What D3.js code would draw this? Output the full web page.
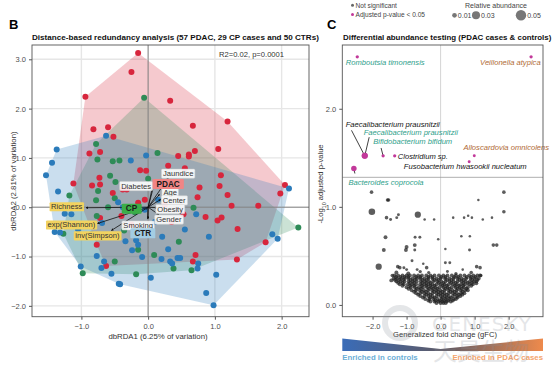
<!DOCTYPE html>
<html><head><meta charset="utf-8">
<script src="https://cdn.jsdelivr.net/npm/d3@7"></script>
<style>body{margin:0;background:#fff}svg{display:block;font-family:"Liberation Sans",Arial,sans-serif}</style>
</head><body><svg id="c" width="554" height="367"></svg>
<script>
// ---------------- DATA: panel B (dbRDA ordination) ----------------
const pdacPts = [[-0.15,3.13],[-0.25,2.74],[-0.94,2.24],[0.33,2.16],[1.19,1.74],[0.67,1.65],[-0.82,1.58],[-0.60,1.62],[-0.52,1.43],[1.05,1.18],[-0.72,1.12],[-0.88,1.09],[0.70,1.14],[0.61,1.07],[0.61,1.03],[0.45,1.04],[0.30,0.84],[0.55,0.79],[-0.12,0.75],[-0.03,0.74],[-0.73,0.60],[1.09,0.65],[-1.12,0.48],[-0.84,0.44],[-0.72,0.46],[1.07,0.43],[0.77,0.40],[2.05,0.45],[-0.53,0.29],[-0.38,0.36],[-0.32,0.36],[0.74,0.20],[1.19,0.25],[1.98,0.28],[1.25,0.03],[1.65,0.03],[-0.15,0.09],[0.53,-0.14],[0.86,-0.20],[1.04,-0.27],[1.10,-0.21],[1.34,-0.44],[1.76,-0.71],[-0.72,-0.22],[-0.40,-0.18],[-0.77,-0.76],[0.71,-0.97],[0.67,-1.10],[1.33,-1.06],[-0.63,-1.19],[-0.05,0.15],[0.25,0.05],[-0.30,-0.05],[0.35,-0.30],[0.05,-0.55],[-0.25,-0.35],[0.20,0.50]];
const cpPts = [[-0.06,2.22],[-0.78,1.28],[-0.76,0.97],[-0.53,0.93],[-0.43,0.95],[0.14,1.10],[0.00,0.58],[-0.57,0.64],[-0.49,0.51],[-1.18,0.24],[-0.75,0.33],[-0.50,0.18],[-0.78,0.14],[-0.77,-0.18],[-1.27,-0.54],[-0.36,-0.47],[-0.15,-0.86],[-0.50,-1.10],[-0.98,-1.34],[-0.18,-1.36],[0.09,-0.97],[0.38,-1.24],[0.65,-1.28],[0.46,-0.70],[0.68,-0.01],[2.25,-0.41],[-0.20,-0.10],[0.30,0.30],[-0.60,0.00]];
const ctrPts = [[-0.63,1.45],[-1.37,1.17],[-1.44,0.90],[-1.53,0.65],[-0.26,0.95],[-0.03,1.05],[-1.35,0.32],[2.11,0.38],[0.72,-0.14],[0.91,-0.60],[0.21,-0.60],[1.86,-0.55],[1.94,-0.64],[0.75,-1.14],[0.74,-1.24],[1.02,-1.37],[0.87,-1.74],[0.98,-1.99],[0.33,-1.10],[0.36,-1.14],[0.44,-1.03],[0.48,-1.03],[0.20,-1.05],[0.04,-1.43],[-0.15,-0.76],[-0.09,-1.01],[-0.42,-1.56],[-0.44,-1.55],[-1.25,-0.13],[-1.15,-0.14],[-1.40,-0.50],[-1.32,-0.51],[-0.69,-0.32],[-0.34,-0.69],[-0.77,-0.99],[-0.66,-1.10],[-0.70,-1.23],[-1.01,-1.20],[-0.55,-1.35],[-0.24,-0.87],[-0.38,0.00],[-0.18,-0.67],[-0.05,-0.05],[0.10,-0.30],[-0.45,0.10],[0.30,-0.85],[-0.85,-0.55],[0.55,-0.45],[0.15,0.15],[-1.05,-0.45]];
const loadNames = ["Jaundice","Diabetes","Age","Center","Obesity","Gender","Smoking","Richness","exp(Shannon)","inv(Simpson)"];
const loadX = [0.30,0.06,0.17,0.19,0.14,0.16,0.00,-0.93,-0.76,-0.55];
const loadY = [0.59,0.38,0.26,0.16,-0.01,-0.15,-0.23,-0.01,-0.33,-0.47];
const centNames = ["PDAC","CP","CTR"];
const centX = [0.07,-0.03,-0.01];
const centY = [0.36,-0.05,-0.24];
const bTicksX = [-1,0,1,2];
const bTicksY = [-2,-1,0,1,2,3];

// ---------------- DATA: panel C (differential abundance) ----------------
const sigNames = ["Romboutsia timonensis","Veillonella atypica","Faecalibacterium prausnitzii","Faecalibacterium prausnitzii","Bifidobacterium bifidum","Clostridium sp.","Alloscardovia omnicolens","Fusobacterium hwasookii nucleatum","Bacteroides coprocola"];
const sigGFC = [-2.45,2.66,-2.23,-2.23,-1.69,-1.35,0.99,0.84,-2.55];
const sigLogP = [2.53,2.53,1.52,1.52,1.52,1.52,1.52,1.46,1.39];
const sigAbund = [0.005,0.005,0.017,0.017,0.005,0.005,0.004,0.004,0.014];
const sigLabelKind = ["ctrl","pdac","none","ctrl","ctrl","none","pdac","none","ctrl"];
const nsPts = [[-2.03,1.15,0.006],[-2.02,0.95,0.02],[-1.56,1.07,0.006],[-1.53,1.07,0.006],[-1.59,0.89,0.006],[-1.47,0.87,0.004],[-1.29,0.89,0.004],[-1.24,0.92,0.004],[-0.67,0.92,0.018],[-0.47,0.87,0.003],[-0.19,0.87,0.003],[0.37,0.89,0.003],[0.69,0.89,0.003],[0.81,0.91,0.003],[0.92,0.89,0.003],[1.11,1.07,0.003],[1.24,0.87,0.003],[1.51,0.89,0.003],[1.86,1.15,0.006],[1.86,0.95,0.006],[-1.62,0.69,0.007],[-1.67,0.56,0.007],[-1.82,0.39,0.018],[-1.00,0.59,0.007],[-1.02,0.56,0.007],[-0.75,0.69,0.004],[-0.61,0.69,0.004],[-0.76,0.61,0.007],[-0.76,0.56,0.004],[-0.07,0.67,0.003],[0.14,0.57,0.003],[0.61,0.70,0.003],[0.86,0.70,0.003],[0.85,0.56,0.004],[1.55,0.61,0.006],[1.65,0.61,0.006],[-0.84,0.45,0.004],[-0.69,0.36,0.004],[-0.51,0.42,0.003],[-0.41,0.38,0.006],[0.14,0.43,0.004],[0.27,0.43,0.004],[0.65,0.36,0.003],[1.06,0.39,0.006],[1.16,0.38,0.006],[-1.26,0.39,0.006],[-1.20,0.38,0.006],[-1.08,0.38,0.004],[-1.00,0.36,0.004],[-1.42,0.30,0.006],[1.18,0.30,0.006],[-0.35,0.33,0.005],[0.45,0.32,0.005],[-1.3,0.33,0.007],[-0.95,0.32,0.007],[0.9,0.33,0.006],[-1.45,0.25,0.007],[1.05,0.22,0.007],[-0.6,0.34,0.005],[0.2,0.34,0.004]];
const clusterRowY = [0.30,0.285,0.27,0.255,0.24,0.225,0.21,0.195,0.18,0.165,0.15,0.135,0.12,0.105,0.09,0.075,0.06,0.045,0.035,0.02];
const clusterRowX = [
  [-1.36,-1.25,-1.12,-1.0,-0.9,-0.78,-0.66,-0.55,-0.42,-0.3,-0.18,-0.05,0.08,0.2,0.33,0.45,0.58,0.7,0.84,0.96,1.08,1.16],
  [-1.31,-1.18,-1.06,-0.95,-0.72,-0.6,-0.36,-0.24,0.02,0.14,0.4,0.52,0.77,0.9,1.02],
  [-1.38,-1.28,-1.16,-1.05,-0.94,-0.82,-0.7,-0.6,-0.48,-0.36,-0.24,-0.12,0.0,0.13,0.26,0.38,0.5,0.62,0.75,0.88,1.0,1.12],
  [-1.34,-1.22,-1.1,-0.88,-0.76,-0.53,-0.41,-0.18,-0.06,0.19,0.32,0.56,0.68,0.93,1.08],
  [-1.3,-1.18,-1.06,-0.94,-0.82,-0.7,-0.58,-0.46,-0.34,-0.22,-0.1,0.02,0.14,0.26,0.38,0.5,0.62,0.74,0.86,0.98,1.05],
  [-1.25,-1.12,-0.9,-0.78,-0.54,-0.42,-0.3,-0.05,0.08,0.31,0.44,0.67,0.8,0.92],
  [-1.2,-1.08,-0.96,-0.84,-0.72,-0.6,-0.48,-0.36,-0.24,-0.12,0.0,0.12,0.24,0.36,0.48,0.6,0.72,0.84,0.95],
  [-1.12,-0.9,-0.78,-0.55,-0.42,-0.3,-0.18,0.06,0.18,0.42,0.54,0.66,0.9],
  [-1.0,-0.88,-0.76,-0.64,-0.52,-0.4,-0.28,-0.16,-0.04,0.08,0.2,0.32,0.44,0.56,0.68,0.8],
  [-0.94,-0.7,-0.58,-0.34,-0.22,-0.1,0.14,0.26,0.5,0.62,0.76],
  [-0.85,-0.73,-0.61,-0.49,-0.37,-0.25,-0.13,-0.01,0.11,0.23,0.35,0.47,0.59,0.72,0.8],
  [-0.78,-0.55,-0.43,-0.19,-0.07,0.05,0.29,0.41,0.65],
  [-0.72,-0.6,-0.48,-0.36,-0.24,-0.12,0.0,0.12,0.24,0.36,0.48,0.6,0.7],
  [-0.66,-0.42,-0.3,-0.06,0.06,0.18,0.42,0.54,0.64],
  [-0.6,-0.48,-0.36,-0.24,-0.12,0.0,0.12,0.24,0.36,0.48,0.58],
  [-0.52,-0.3,-0.18,0.06,0.18,0.3,0.5],
  [-0.45,-0.33,-0.21,-0.09,0.03,0.15,0.27,0.39,0.45],
  [-0.36,-0.15,-0.02,0.1,0.22,0.36],
  [-0.3,-0.18,-0.06,0.06,0.18,0.3],
  [-0.12,0.0,0.08,0.15]
];
const sizeLegend = [0.01,0.03,0.05];

// ---------------- layout (positions only) ----------------
const loadLabelPos = [[0.45,0.68],[-0.18,0.43],[0.33,0.30],[0.39,0.14],[0.33,-0.04],[0.31,-0.25],[-0.15,-0.37],[-1.22,0.01],[-1.15,-0.36],[-0.76,-0.58]];
const centLabelPos = [[0.30,0.47],[-0.25,-0.03],[-0.08,-0.53]];
const sigLabelPos = [[-2.79,2.47,"start"],[2.94,2.47,"end"],[-2.79,1.84,"start"],[-2.26,1.76,"start"],[-1.98,1.67,"start"],[-1.26,1.51,"start"],[3.19,1.60,"end"],[-1.08,1.41,"start"],[-2.71,1.25,"start"]];
const sigLeader = [null,null,[-2.62,1.78],[-2.1,1.71],[-1.75,1.6],null,null,null,[-2.52,1.34]];

const svg = d3.select("#c");
const defs = svg.append("defs");
defs.append("marker").attr("id","ah").attr("viewBox","0 0 6 6").attr("refX",5).attr("refY",3)
  .attr("markerWidth",3.2).attr("markerHeight",3.2).attr("orient","auto")
  .append("path").attr("d","M0,0L6,3L0,6Z").attr("fill","#111");

// ================= PANEL B =================
const bx = d3.scaleLinear().domain([-1.74,2.41]).range([32,309]);
const by = d3.scaleLinear().domain([-2.22,3.29]).range([316.7,45]);
const gB = svg.append("g");
svg.append("text").attr("x",9).attr("y",29).attr("font-size",13).attr("font-weight","bold").text("B");
svg.append("text").attr("x",32).attr("y",39.5).attr("font-size",8.1).attr("font-weight","bold").attr("fill","#111")
  .text("Distance-based redundancy analysis (57 PDAC, 29 CP cases and 50 CTRs)");

// grid
gB.append("g").selectAll("line").data(bTicksX).join("line")
  .attr("x1",d=>bx(d)).attr("x2",d=>bx(d)).attr("y1",45).attr("y2",316.7)
  .attr("stroke","#e6e6e6").attr("stroke-width",1.4);
gB.append("g").selectAll("line").data(bTicksY).join("line")
  .attr("y1",d=>by(d)).attr("y2",d=>by(d)).attr("x1",32).attr("x2",309)
  .attr("stroke","#e6e6e6").attr("stroke-width",1.4);

// hulls
const groups = [
  {pts:pdacPts,col:"#d7263d"},
  {pts:cpPts,col:"#2e8b57"},
  {pts:ctrPts,col:"#2b7bba"}
];
groups.forEach(g=>{
  const hull = d3.polygonHull(g.pts.map(p=>[bx(p[0]),by(p[1])]));
  gB.append("path").attr("d","M"+hull.join("L")+"Z").attr("fill",g.col).attr("fill-opacity",0.25);
});
// zero lines
gB.append("line").attr("x1",bx(0)).attr("x2",bx(0)).attr("y1",45).attr("y2",316.7).attr("stroke","#8a8a8a").attr("stroke-width",1);
gB.append("line").attr("y1",by(0)).attr("y2",by(0)).attr("x1",32).attr("x2",309).attr("stroke","#8a8a8a").attr("stroke-width",1);

// points
groups.forEach(g=>{
  gB.append("g").selectAll("circle").data(g.pts).join("circle")
    .attr("cx",d=>bx(d[0])).attr("cy",d=>by(d[1])).attr("r",3).attr("fill",g.col);
});

// border
gB.append("rect").attr("x",32).attr("y",45).attr("width",277).attr("height",271.7).attr("fill","none").attr("stroke","#555").attr("stroke-width",0.9);

// axes
const axBL = gB.append("g").attr("transform","translate(32,0)").call(d3.axisLeft(by).tickValues(bTicksY).tickSize(3));
const axBB = gB.append("g").attr("transform","translate(0,316.7)").call(d3.axisBottom(bx).tickValues(bTicksX).tickSize(3));
[axBL,axBB].forEach(a=>{a.select(".domain").remove();a.selectAll("line").attr("stroke","#555");
  a.selectAll("text").attr("font-size",7.5).attr("fill","#4d4d4d").attr("font-family","Liberation Sans, Arial, sans-serif");});
axBB.selectAll("text").attr("dy","0.9em");

gB.append("text").attr("x",158).attr("y",339).attr("text-anchor","middle").attr("font-size",7.8).attr("fill","#333").text("dbRDA1 (6.25% of variation)");
gB.append("text").attr("transform","translate(16,181) rotate(-90)").attr("text-anchor","middle").attr("font-size",7.8).attr("fill","#333").text("dbRDA2 (2.81% of variation)");
gB.append("text").attr("x",219).attr("y",56.5).attr("font-size",7.6).attr("fill","#333").text("R2=0.02, p=0.0001");

// arrows
const ox = bx(0), oy = by(0);
loadNames.forEach((n,i)=>{
  gB.append("line").attr("x1",ox).attr("y1",oy).attr("x2",bx(loadX[i])).attr("y2",by(loadY[i]))
    .attr("stroke","#111").attr("stroke-width",0.8).attr("marker-end","url(#ah)");
});
centNames.forEach((n,i)=>{
  gB.append("line").attr("x1",ox).attr("y1",oy).attr("x2",bx(centX[i])).attr("y2",by(centY[i]))
    .attr("stroke","#111").attr("stroke-width",0.8);
});
function boxLabel(g,x,y,txt,opt){
  const t = g.append("text").attr("x",x).attr("y",y).attr("text-anchor","middle").attr("dominant-baseline","central")
    .attr("font-size",opt.fs).attr("font-weight",opt.bold?"bold":"normal").attr("fill",opt.tc).text(txt);
  const bb = t.node().getBBox();
  g.insert("rect",()=>t.node()).attr("x",bb.x-opt.px).attr("y",y-opt.h/2).attr("width",bb.width+2*opt.px).attr("height",opt.h)
    .attr("rx",1.2).attr("fill",opt.bg).attr("fill-opacity",opt.op).attr("stroke",opt.st||"none").attr("stroke-width",0.5);
}
const labG = gB.append("g");
loadNames.forEach((n,i)=>{
  const yellow = i>=7;
  boxLabel(labG,bx(loadLabelPos[i][0]),by(loadLabelPos[i][1]),n,{fs:7.6,bold:false,tc:"#333",bg:yellow?"#f2d360":"#ffffff",op:yellow?1:0.88,px:1.5,h:9.2,st:yellow?null:"#cfcfcf"});
});
const centBg = ["#f08585","#3aae48","#a3cde4"];
centNames.forEach((n,i)=>{
  boxLabel(labG,bx(centLabelPos[i][0]),by(centLabelPos[i][1]),n,{fs:8.2,bold:true,tc:"#1a1a1a",bg:centBg[i],op:1,px:4,h:10});
});

// ================= PANEL C =================
const cx = d3.scaleLinear().domain([-2.89,3.01]).range([342.3,543]);
const cy = d3.scaleLinear().domain([-0.12,2.65]).range([316.7,45]);
const rs = d3.scaleSqrt().domain([0,0.05]).range([0,5.2]);
const gC = svg.append("g");
svg.append("text").attr("x",327).attr("y",29).attr("font-size",13).attr("font-weight","bold").text("C");
svg.append("text").attr("x",343).attr("y",39.5).attr("font-size",7.9).attr("font-weight","bold").attr("fill","#111")
  .text("Differential abundance testing (PDAC cases & controls)");

// legend
const lg = svg.append("g").attr("font-size",6.6).attr("fill","#444");
lg.append("circle").attr("cx",352.5).attr("cy",5.2).attr("r",1.5).attr("fill","#666");
lg.append("text").attr("x",355.5).attr("y",7.5).text("Not significant");
lg.append("circle").attr("cx",352.5).attr("cy",14.5).attr("r",1.5).attr("fill","#c2399a");
lg.append("text").attr("x",355.5).attr("y",16.8).text("Adjusted p-value < 0.05");
lg.append("text").attr("x",496).attr("y",7.5).attr("text-anchor","middle").attr("font-size",7).text("Relative abundance");
const slX = [454.5,476,521];
sizeLegend.forEach((v,i)=>{
  lg.append("circle").attr("cx",slX[i]).attr("cy",15.3).attr("r",rs(v)).attr("fill","#777");
  lg.append("text").attr("x",slX[i]+rs(v)+1).attr("y",17.8).attr("font-size",7).text(v.toFixed(2));
});

// reference lines
gC.append("line").attr("x1",cx(0)).attr("x2",cx(0)).attr("y1",45).attr("y2",316.7).attr("stroke","#c8c8c8").attr("stroke-width",0.8);
gC.append("line").attr("x1",342.3).attr("x2",543).attr("y1",cy(-Math.log10(0.05))).attr("y2",cy(-Math.log10(0.05))).attr("stroke","#9a9a9a").attr("stroke-width",0.8);

// nonsignificant points
const allNs = nsPts.slice();
clusterRowY.forEach((y,i)=>clusterRowX[i].forEach(x=>allNs.push([x,y,0.007])));
gC.append("g").selectAll("circle").data(allNs).join("circle")
  .attr("cx",d=>cx(d[0])).attr("cy",d=>cy(d[1])).attr("r",d=>rs(d[2])).attr("fill","#1e1e1e").attr("fill-opacity",0.72);

// significant
const kindCol = {ctrl:"#2e9e8a",pdac:"#b06a35",none:"#111"};
sigNames.forEach((n,i)=>{
  if(sigLeader[i]){
    gC.append("line").attr("x1",cx(sigLeader[i][0])).attr("y1",cy(sigLeader[i][1])).attr("x2",cx(sigGFC[i])).attr("y2",cy(sigLogP[i]))
      .attr("stroke","#111").attr("stroke-width",0.8);
  }
});
gC.append("g").selectAll("circle").data(sigNames.map((n,i)=>i)).join("circle")
  .attr("cx",i=>cx(sigGFC[i])).attr("cy",i=>cy(sigLogP[i])).attr("r",i=>rs(sigAbund[i])).attr("fill","#c2399a");
sigNames.forEach((n,i)=>{
  gC.append("text").attr("x",cx(sigLabelPos[i][0])).attr("y",cy(sigLabelPos[i][1])).attr("dominant-baseline","central")
    .attr("text-anchor",sigLabelPos[i][2]).attr("font-size",7.6).attr("font-style","italic").attr("fill",kindCol[sigLabelKind[i]]).text(n);
});

gC.append("rect").attr("x",342.3).attr("y",45).attr("width",200.7).attr("height",271.7).attr("fill","none").attr("stroke","#555").attr("stroke-width",0.9);
const axCL = gC.append("g").attr("transform","translate(342.3,0)").call(d3.axisLeft(cy).tickValues([0,1,2]).tickSize(3));
const axCB = gC.append("g").attr("transform","translate(0,316.7)").call(d3.axisBottom(cx).tickValues([-2,-1,0,1,2]).tickSize(3));
[axCL,axCB].forEach(a=>{a.select(".domain").remove();a.selectAll("line").attr("stroke","#555");
  a.selectAll("text").attr("font-size",7.5).attr("fill","#4d4d4d").attr("font-family","Liberation Sans, Arial, sans-serif");});
axCB.selectAll("text").attr("dy","0.8em");

gC.append("text").attr("x",445).attr("y",337).attr("text-anchor","middle").attr("font-size",7.6).attr("fill","#333").text("Generalized fold change (gFC)");
const yl = gC.append("text").attr("transform","translate(323,184) rotate(-90)").attr("text-anchor","middle").attr("font-size",7.6).attr("fill","#333");
yl.append("tspan").text("-Log");
yl.append("tspan").attr("font-size",5.5).attr("dy",2.5).text("10");
yl.append("tspan").attr("dy",-2.5).text(" adjusted p-value");

// gradient bar
const grad = defs.append("linearGradient").attr("id","gr").attr("x1","0").attr("x2","1").attr("y1","0").attr("y2","0");
grad.append("stop").attr("offset","0").attr("stop-color","#3a6cb8");
grad.append("stop").attr("offset","0.5").attr("stop-color","#5e5a66");
grad.append("stop").attr("offset","1").attr("stop-color","#ee8a4c");
gC.append("path").attr("d",`M342.3,338.5L${cx(0)},349L543,338.5L543,351L342.3,351Z`).attr("fill","url(#gr)");
gC.append("text").attr("x",342.3).attr("y",360).attr("font-size",7.8).attr("font-weight","bold").attr("fill","#6baed6").text("Enriched in controls");
gC.append("text").attr("x",543).attr("y",360).attr("text-anchor","end").attr("font-size",7.8).attr("font-weight","bold").attr("fill","#f4a46c").text("Enriched in PDAC cases");

// watermark (faint, drawn on top as in the reference)
const wm = svg.append("g").attr("opacity",0.22).attr("fill","#8a8f99");
wm.append("circle").attr("cx",400).attr("cy",323).attr("r",15).attr("fill","none").attr("stroke","#8a8f99").attr("stroke-width",6);
wm.append("text").attr("x",432).attr("y",331).attr("font-size",20).attr("letter-spacing",1).attr("font-family","DejaVu Sans, sans-serif").text("GENESKY");
wm.append("text").attr("x",433).attr("y",360).attr("font-size",24).attr("font-family","Noto Sans CJK SC").text("天昊生物");
</script></body></html>
